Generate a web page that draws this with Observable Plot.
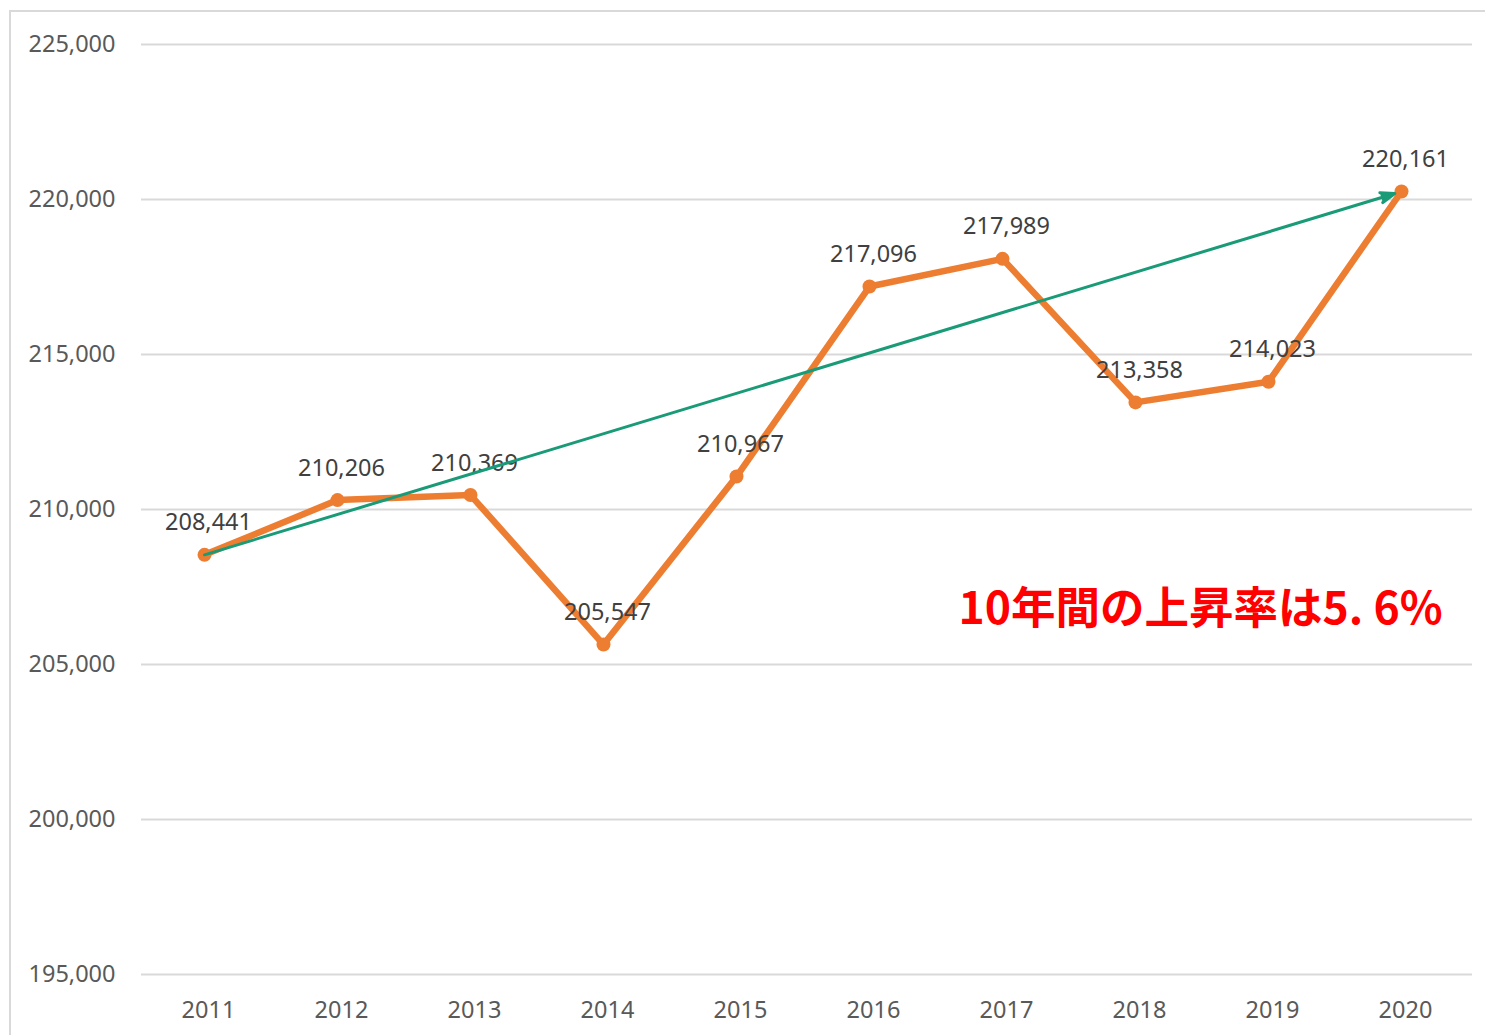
<!DOCTYPE html>
<html>
<head>
<meta charset="utf-8">
<script src="https://cdn.jsdelivr.net/npm/d3@7"></script>
<script src="https://cdn.jsdelivr.net/npm/@observablehq/plot@0.6"></script>
<style>
  html, body { margin: 0; padding: 0; background: #fff; overflow: hidden; }
  #frame { position: absolute; left: 9px; top: 10px; width: 1520px; height: 1060px; border: 2px solid #d9d9d9; box-sizing: border-box; }
  #chart { position: absolute; left: 0; top: 0; }
</style>
</head>
<body>
<div id="frame"></div>
<div id="chart"></div>
<script>
const years = ["2011","2012","2013","2014","2015","2016","2017","2018","2019","2020"];
const values = [208441, 210206, 210369, 205547, 210967, 217096, 217989, 213358, 214023, 220161];
const yTicks = [195000, 200000, 205000, 210000, 215000, 220000, 225000];
const annotation = "10年間の上昇率は5. 6%";

const data = years.map((y, i) => ({year: y, value: values[i]}));
const trend = [{x1: years[0], y1: values[0], x2: years[years.length - 1], y2: values[values.length - 1]}];
const fmt = d3.format(",");

const chart = Plot.plot({
  width: 1485,
  height: 1035,
  marginLeft: 141,
  marginRight: 13,
  marginTop: 44,
  marginBottom: 61,
  style: {fontFamily: "'Noto Sans', sans-serif", fontSize: "23.5px", background: "transparent"},
  x: {type: "point", domain: years, padding: 0.5},
  y: {domain: [195000, 225000]},
  marks: [
    Plot.ruleY(yTicks, {stroke: "#d9d9d9", strokeWidth: 2}),
    Plot.axisY({ticks: yTicks, tickSize: 0, tickPadding: 26, tickFormat: fmt, label: null, color: "#595959", fontSize: 23.5}),
    Plot.axisX({tickSize: 0, tickPadding: 27, label: null, color: "#595959", fontSize: 23.5}),
    Plot.line(data, {x: "year", y: "value", dx: -4, dy: -3, stroke: "#ed7d31", strokeWidth: 6.5, strokeLinejoin: "round"}),
    Plot.dot(data, {x: "year", y: "value", dx: -4, dy: -3, r: 7, fill: "#ed7d31"}),
    Plot.text(data, {x: "year", y: "value", text: d => fmt(d.value), dy: -35, dx: 0, fill: "#404040", fontSize: 23.5}),
    Plot.arrow(trend, {x1: "x1", y1: "y1", x2: "x2", y2: "y2", dx: -4, dy: -3, stroke: "#1a9b78", fill: "#1a9b78", strokeWidth: 3, headLength: 7.5, headAngle: 40, insetEnd: 7}),
    Plot.text([annotation], {frameAnchor: "right", textAnchor: "end", dx: -30, dy: 100, fill: "#ff0000", fontSize: 44.5, fontWeight: "bold", fontFamily: "'Noto Sans CJK JP', sans-serif"})
  ]
});
document.getElementById("chart").appendChild(chart);
</script>
</body>
</html>
